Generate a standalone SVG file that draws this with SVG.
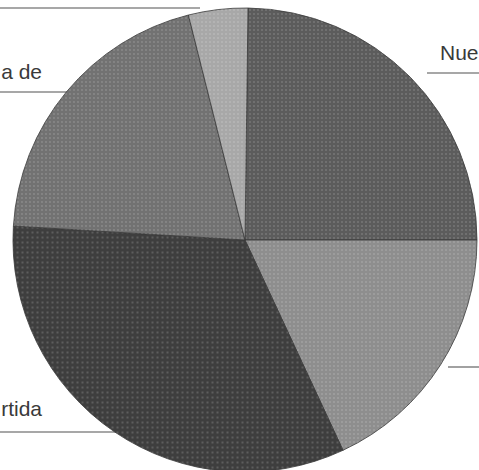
<svg xmlns="http://www.w3.org/2000/svg" width="479" height="470" viewBox="0 0 479 470">
  <style>
    .lbl { font-family: "Liberation Sans", Arial, sans-serif; font-size: 21px; fill: #3a3a3a; }
    .lead { stroke: #8a8a8a; stroke-width: 1.6; fill: none; }
    .slice { stroke: #3a3a3a; stroke-width: 0.8; stroke-linejoin: round; }
  </style>
  <defs>
    <pattern id="dots" width="4" height="4" patternUnits="userSpaceOnUse">
      <circle cx="2" cy="2" r="0.9" fill="#ffffff" fill-opacity="0.18"/>
    </pattern>
    <pattern id="grid" width="5" height="5" patternUnits="userSpaceOnUse">
      <rect x="1.5" y="1.5" width="2" height="2" fill="#ffffff" fill-opacity="0.16"/>
    </pattern>
  </defs>
  <rect width="479" height="470" fill="#ffffff"/>
  <g id="connectors">
    <line class="lead" x1="0" y1="8" x2="200" y2="8"/>
    <line class="lead" x1="0" y1="92" x2="70" y2="92"/>
    <line class="lead" x1="427" y1="73" x2="479" y2="73"/>
    <line class="lead" x1="0" y1="432" x2="118" y2="432"/>
    <line class="lead" x1="448" y1="367" x2="479" y2="367"/>
  </g>
  <g id="slice-nue">
    <path class="slice" fill="#5c5c5c" d="M245,240 L248,8.02 A232,232 0 0 1 477,240 Z"/>
    <path fill="url(#dots)" d="M245,240 L248,8.02 A232,232 0 0 1 477,240 Z"/>
  </g>
  <g id="slice-2">
    <path class="slice" fill="#8e8e8e" d="M245,240 L477,240 A232,232 0 0 1 343,450.3 Z"/>
    <path fill="url(#dots)" d="M245,240 L477,240 A232,232 0 0 1 343,450.3 Z"/>
  </g>
  <g id="slice-partida">
    <path class="slice" fill="#3e3e3e" d="M245,240 L343,450.3 A232,232 0 0 1 13.4,226 Z"/>
    <path fill="url(#grid)" d="M245,240 L343,450.3 A232,232 0 0 1 13.4,226 Z"/>
  </g>
  <g id="slice-de">
    <path class="slice" fill="#727272" d="M245,240 L13.4,226 A232,232 0 0 1 188.4,15 Z"/>
    <path fill="url(#dots)" d="M245,240 L13.4,226 A232,232 0 0 1 188.4,15 Z"/>
  </g>
  <g id="slice-5">
    <path class="slice" fill="#a8a8a8" d="M245,240 L188.4,15 A232,232 0 0 1 248,8.02 Z"/>
    <path fill="url(#dots)" d="M245,240 L188.4,15 A232,232 0 0 1 248,8.02 Z"/>
  </g>
  <g id="label-de">
    <text class="lbl" x="42" y="79" text-anchor="end">a de</text>
  </g>
  <g id="label-nue">
    <text class="lbl" x="440" y="60">Nue</text>
  </g>
  <g id="label-partida">
    <text class="lbl" x="42" y="416" text-anchor="end">rtida</text>
  </g>
</svg>
